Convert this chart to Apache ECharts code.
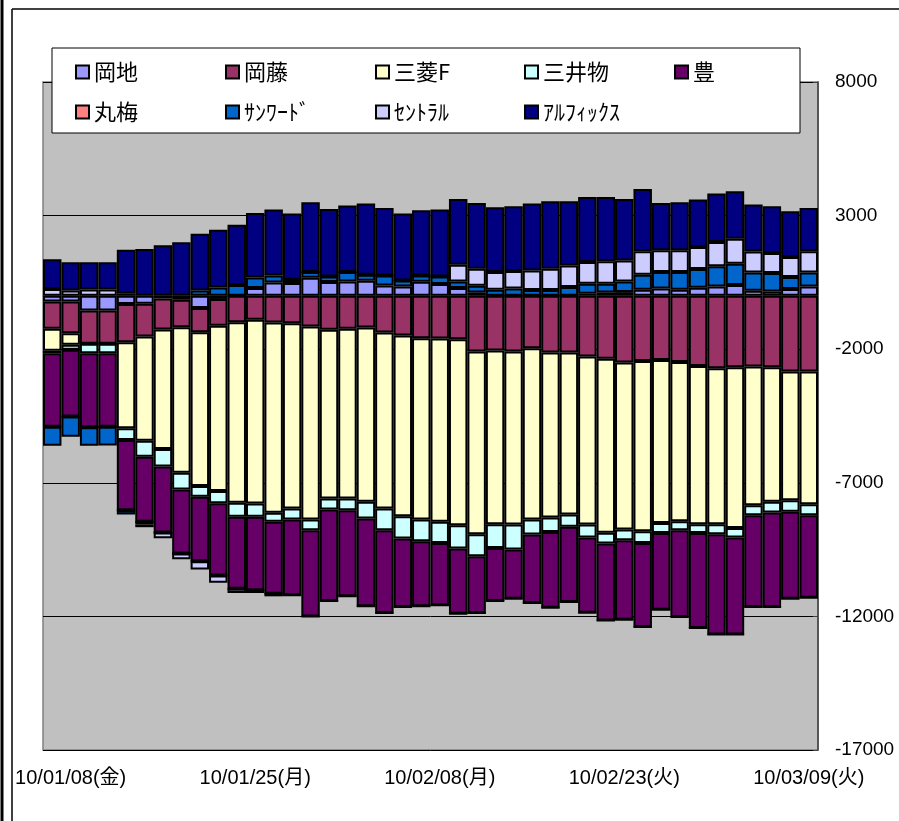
<!DOCTYPE html>
<html>
<head>
<meta charset="utf-8">
<script src="https://cdn.jsdelivr.net/npm/echarts@6/dist/echarts.min.js"></script>
<style>
  html, body { margin: 0; padding: 0; background: #fff; }
  #main { width: 899px; height: 821px; }
</style>
</head>
<body>
<div id="main"></div>
<script>
// trading days, 2010/01/07 - 2010/03/09
const dates = [
  '10/01/07(木)', '10/01/08(金)', '10/01/12(火)', '10/01/13(水)', '10/01/14(木)', '10/01/15(金)',
  '10/01/18(月)', '10/01/19(火)', '10/01/20(水)', '10/01/21(木)', '10/01/22(金)', '10/01/25(月)',
  '10/01/26(火)', '10/01/27(水)', '10/01/28(木)', '10/01/29(金)', '10/02/01(月)', '10/02/02(火)',
  '10/02/03(水)', '10/02/04(木)', '10/02/05(金)', '10/02/08(月)', '10/02/09(火)', '10/02/10(水)',
  '10/02/12(金)', '10/02/15(月)', '10/02/16(火)', '10/02/17(水)', '10/02/18(木)', '10/02/19(金)',
  '10/02/22(月)', '10/02/23(火)', '10/02/24(水)', '10/02/25(木)', '10/02/26(金)', '10/03/01(月)',
  '10/03/02(火)', '10/03/03(水)', '10/03/04(木)', '10/03/05(金)', '10/03/08(月)', '10/03/09(火)'
];

const okachi = [-212, -212, -550, -550, -312, -300, -100, -150, -462, -120, 0, 287, 500, 475,
  675, 512, 537, 562, 387, 350, 525, 437, 287, 125, 0, 0, 0, 0,
  0, 75, 125, 137, 225, 275, 225, 300, 350, 400, 187, 162, 250, 350];
const okato = [-1025, -1187, -1250, -1250, -1425, -1225, -1162, -1025, -900, -1000, -987, -900, -1000, -1025,
  -1150, -1275, -1237, -1187, -1375, -1487, -1587, -1600, -1625, -2087, -2050, -2087, -1962, -2125,
  -2125, -2275, -2362, -2500, -2437, -2400, -2475, -2625, -2712, -2675, -2650, -2675, -2837, -2837];
const mitsubishiF = [-825, -437, 0, 0, -3225, -3900, -4475, -5450, -5762, -6187, -6762, -6875, -7125, -6937,
  -7225, -6312, -6350, -6525, -6587, -6762, -6787, -6862, -6962, -6837, -6500, -6475, -6412, -6175,
  -6062, -6287, -6512, -6250, -6375, -6100, -5962, -5925, -5837, -6012, -5187, -5037, -4812, -4962];
const mitsui = [-88, -187, -350, -350, -437, -600, -650, -625, -400, -462, -525, -500, -337, -412,
  -400, -412, -437, -625, -812, -837, -812, -787, -875, -825, -887, -937, -562, -537,
  -462, -487, -400, -400, -437, -375, -337, -325, -375, -362, -375, -400, -437, -412];
const yutaka = [-2750, -2500, -2775, -2750, -2625, -2437, -2475, -2400, -2412, -2700, -2687, -2750, -2687, -2837,
  -3225, -3425, -3225, -3287, -3100, -2562, -2437, -2337, -2437, -2125, -1987, -1837, -2562, -2837,
  -2812, -2812, -2875, -2975, -3150, -2875, -3250, -3562, -3750, -3625, -3437, -3537, -3250, -3087];
const marubai = [0, 0, 0, 0, 0, 0, 0, 0, 0, 0, 0, 0, 0, 0,
  0, 0, 0, 0, 0, 0, 0, 0, 0, 0, 0, 0, 0, 0,
  0, 0, 0, 0, 0, 0, 0, 0, 0, 0, 0, 0, 0, 0];
const sunward = [-712, -750, -687, -700, -162, -100, 0, 0, 200, 312, 400, 400, 262, 125,
  212, 212, 350, 225, 375, 225, 237, 287, 250, 250, 225, 275, 212, 212,
  325, 375, 325, 400, 562, 612, 662, 700, 750, 800, 687, 687, 450, 525];
const central = [250, 200, 230, 230, 75, -100, -212, -212, -312, -275, -162, -100, -100, 0,
  0, 0, 0, 0, 0, 0, 0, 0, 625, 637, 662, 650, 737, 800,
  812, 812, 837, 787, 875, 812, 812, 825, 912, 937, 787, 750, 750, 787];
const alfix = [1112, 1050, 1020, 1020, 1650, 1750, 1887, 2000, 2125, 2162, 2262, 2412, 2462, 2475,
  2612, 2525, 2487, 2662, 2525, 2500, 2437, 2500, 2462, 2462, 2425, 2425, 2500, 2525,
  2400, 2437, 2412, 2300, 2337, 1775, 1800, 1775, 1812, 1775, 1750, 1750, 1712, 1625];

const names = ['岡地', '岡藤', '三菱F', '三井物', '豊', '丸梅', 'ｻﾝﾜｰﾄﾞ', 'ｾﾝﾄﾗﾙ', 'ｱﾙﾌｨｯｸｽ'];
const values = [okachi, okato, mitsubishiF, mitsui, yutaka, marubai, sunward, central, alfix];
const colors = ['#9999FF', '#993366', '#FFFFCC', '#CCFFFF', '#660066', '#FF8080', '#0066CC', '#CCCCFF', '#000080'];

const font = "'Liberation Sans', 'Noto Sans CJK JP', sans-serif";
const legendFont = "'Noto Sans CJK JP', sans-serif";

// legend laid out as 5 columns x 2 rows, like the original
const legendCols = [[0, 5], [1, 6], [2, 7], [3, 8], [4]];
const legendX = [70, 220, 370, 519, 669];

const myChart = echarts.init(document.getElementById('main'));
myChart.setOption({
  animation: false,
  backgroundColor: '#fff',
  grid: {
    left: 43, right: 81, top: 82, bottom: 71,
    show: true, backgroundColor: '#C0C0C0', borderColor: '#808080', borderWidth: 1.5
  },
  legend: legendCols.map((col, i) => ({
    data: col.map(k => names[k]),
    orient: 'vertical',
    left: legendX[i], top: 56,
    itemGap: 18, itemWidth: 13, itemHeight: 13,
    icon: 'rect', selectedMode: false, z: 20,
    textStyle: { fontFamily: legendFont, fontSize: 22, color: '#000' }
  })),
  xAxis: {
    type: 'category',
    data: dates,
    axisTick: { show: false },
    axisLine: { lineStyle: { color: '#808080', width: 1.5 } },
    axisLabel: {
      interval: (idx) => idx % 10 === 1,
      fontFamily: font, fontSize: 20, color: '#000', margin: 18
    }
  },
  yAxis: {
    type: 'value',
    position: 'right',
    min: -17000, max: 8000, interval: 5000,
    axisLine: { show: true, lineStyle: { color: '#404040', width: 1.5 } },
    axisTick: { show: true, inside: true, length: 5, lineStyle: { color: '#404040' } },
    splitLine: { lineStyle: { color: '#000', width: 1 } },
    axisLabel: {
      formatter: (v) => String(v),
      fontFamily: font, fontSize: 19, color: '#000', margin: 17
    }
  },
  series: names.map((n, i) => ({
    name: n,
    type: 'bar',
    stack: 'all',
    data: values[i],
    barCategoryGap: '0%',
    itemStyle: { color: colors[i], borderColor: '#000', borderWidth: 2 },
    emphasis: { disabled: true }
  })),
  graphic: [
    { type: 'rect', z: 10, shape: { x: 52, y: 48, width: 748, height: 85 },
      style: { fill: '#fff', stroke: '#000', lineWidth: 1 } },
    { type: 'line', z: 30, shape: { x1: 12, y1: 9, x2: 899, y2: 9 },
      style: { stroke: '#000', lineWidth: 1.5 } },
    { type: 'line', z: 30, shape: { x1: 12, y1: 9, x2: 12, y2: 821 },
      style: { stroke: '#000', lineWidth: 1.5 } },
    { type: 'line', z: 30, shape: { x1: 2, y1: 0, x2: 2, y2: 821 },
      style: { stroke: '#000', lineWidth: 3 } }
  ]
});
</script>
</body>
</html>
